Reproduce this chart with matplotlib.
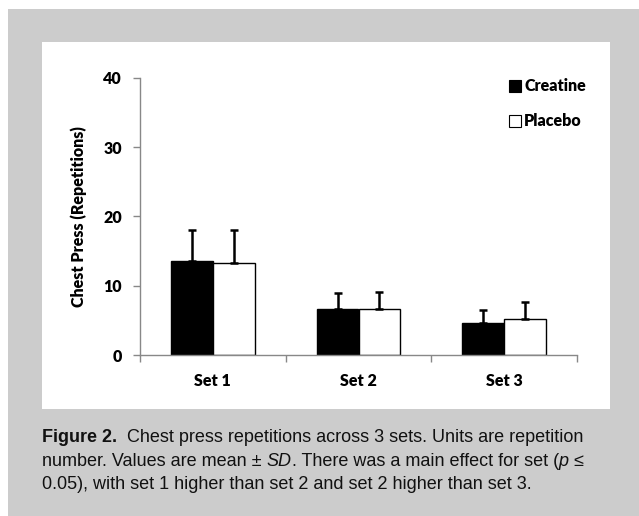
import matplotlib
matplotlib.use('Agg')
import matplotlib.pyplot as plt
from matplotlib.patches import Rectangle
from matplotlib.lines import Line2D
import numpy as np

sets = ['Set 1', 'Set 2', 'Set 3']
creatine = [13.6, 6.7, 4.6]
creatine_sd = [4.4, 2.3, 1.9]
placebo = [13.3, 6.7, 5.2]
placebo_sd = [4.7, 2.4, 2.4]
y_ticks = [0, 10, 20, 30, 40]

W, H = 639, 516
fig = plt.figure(figsize=(W / 100, H / 100), dpi=100)
fig.patch.set_facecolor('white')


def px_rect(x0, y0, x1, y1, color):
    # rectangle given in pixel coords from the top-left corner
    fig.patches.append(Rectangle((x0 / W, 1 - y1 / H), (x1 - x0) / W, (y1 - y0) / H,
                                 transform=fig.transFigure, facecolor=color,
                                 edgecolor='none', zorder=-10))


px_rect(8, 9, W, H, '#cccccc')
px_rect(42, 42, 610, 409, 'white')

ax = fig.add_axes([140 / W, 1 - 355 / H, (577 - 140) / W, (355 - 77.7) / H])
ax.set_facecolor('none')

lab_font = {'family': 'Lato', 'weight': 'heavy', 'size': 11.5}

x = np.arange(len(sets))
w = 0.2875
ax.bar(x - w / 2, creatine, w, color='black', edgecolor='black', linewidth=1, zorder=2)
ax.bar(x + w / 2, placebo, w, color='white', edgecolor='black', linewidth=1, zorder=2)
ax.errorbar(x - w / 2, creatine, yerr=[np.zeros(3), creatine_sd], fmt='none',
            ecolor='black', elinewidth=1.8, capsize=2.6, capthick=1.8, zorder=3)
ax.errorbar(x + w / 2, placebo, yerr=[np.zeros(3), placebo_sd], fmt='none',
            ecolor='black', elinewidth=1.8, capsize=2.6, capthick=1.8, zorder=3)

ax.set_xlim(-0.5, 2.5)
ax.set_ylim(0, 40)
ax.set_yticks(y_ticks)
ax.set_yticklabels([str(t) for t in y_ticks], fontdict=lab_font)
ax.set_xticks(x)
ax.set_xticklabels(sets, fontdict=lab_font)
ax.set_xticks([-0.5, 0.5, 1.5, 2.5], minor=True)
ax.tick_params(axis='x', which='major', length=0, pad=13)
ax.tick_params(axis='x', which='minor', length=5, width=1, color='#888888', direction='out')
ax.tick_params(axis='y', length=5, width=1, color='#888888', direction='out', pad=8)
for s in ['top', 'right']:
    ax.spines[s].set_visible(False)
for s in ['left', 'bottom']:
    ax.spines[s].set_color('#888888')
    ax.spines[s].set_linewidth(1)

ax.set_ylabel('Chest Press (Repetitions)', fontdict={'family': 'Lato', 'weight': 'heavy', 'size': 11.5},
              labelpad=12)

handles = [Line2D([], [], linestyle='none', marker='s', markersize=8,
                  markerfacecolor='black', markeredgecolor='black', markeredgewidth=0.8),
           Line2D([], [], linestyle='none', marker='s', markersize=8,
                  markerfacecolor='white', markeredgecolor='black', markeredgewidth=0.8)]
ax.legend(handles, ['Creatine', 'Placebo'], loc='upper left',
          bbox_to_anchor=(0.815, 1.05), frameon=False, handlelength=0.6,
          handletextpad=0.25, labelspacing=1.2,
          prop={'family': 'Lato', 'weight': 'heavy', 'size': 11.5})

# caption, built piece by piece so bold / italic parts sit inline
cap_font = 'Liberation Sans'
cap_size = 13
lines = [
    [('Figure 2.', 'bold', 'normal'),
     ('  Chest press repetitions across 3 sets. Units are repetition', 'normal', 'normal')],
    [('number. Values are mean \u00b1 ', 'normal', 'normal'), ('SD', 'normal', 'italic'),
     ('. There was a main effect for set (', 'normal', 'normal'), ('p', 'normal', 'italic'),
     (' \u2264', 'normal', 'normal')],
    [('0.05), with set 1 higher than set 2 and set 2 higher than set 3.', 'normal', 'normal')],
]
baselines = [442, 465.5, 489]
renderer = fig.canvas.get_renderer()
for parts, yb in zip(lines, baselines):
    xp = 42
    for txt, weight, style in parts:
        t = fig.text(xp / W, 1 - yb / H, txt, fontfamily=cap_font, fontsize=cap_size,
                     fontweight=weight, fontstyle=style, color='#111111',
                     ha='left', va='baseline')
        bb = t.get_window_extent(renderer=renderer)
        xp += bb.width

fig.savefig('out.png', dpi=100, facecolor=fig.get_facecolor())
